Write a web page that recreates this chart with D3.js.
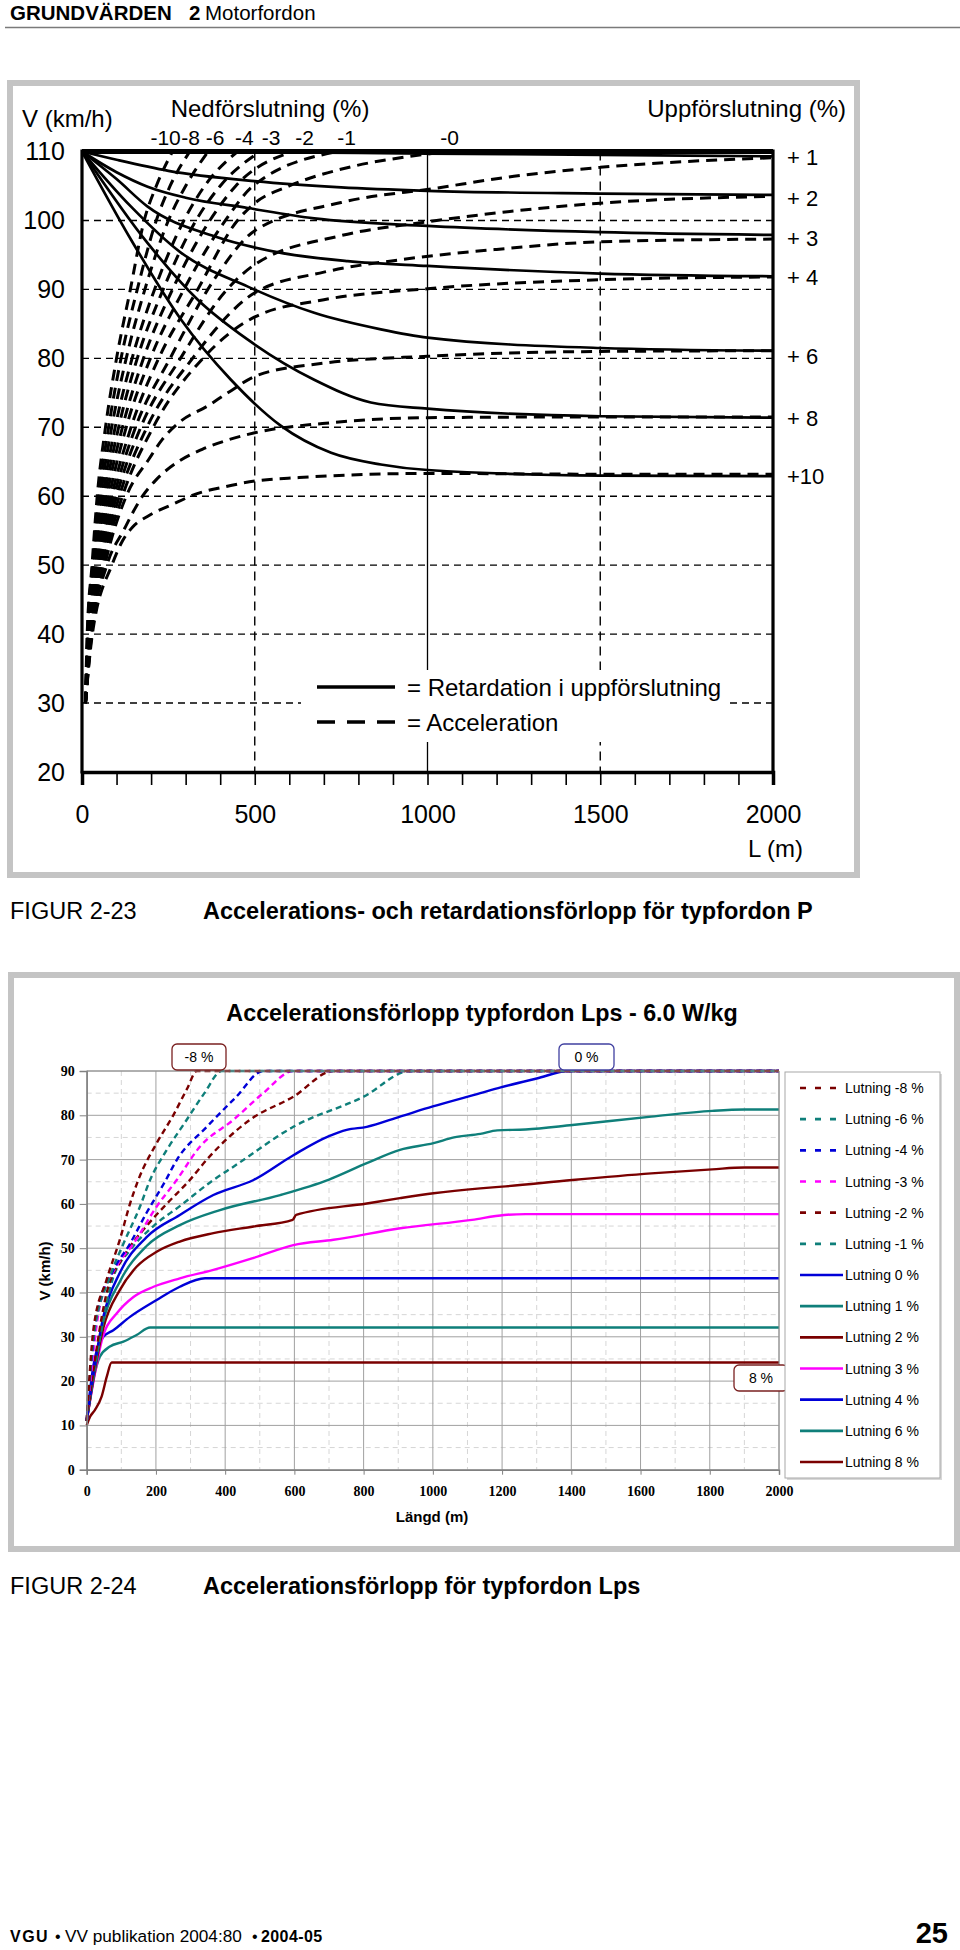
<!DOCTYPE html>
<html><head><meta charset="utf-8">
<script src="https://cdn.jsdelivr.net/npm/d3@7"></script>
<style>
html,body{margin:0;padding:0;background:#fff;}
svg{display:block;}
text{font-family:"Liberation Sans",Arial,Helvetica,sans-serif;}
</style></head><body>
<svg id="page" width="960" height="1950"></svg>
<script>
// ---------------- FIGUR 2-23 data (L in m, V in km/h) ----------------
const topYTicks = [20,30,40,50,60,70,80,90,100,110];
const topXTicks = [0,500,1000,1500,2000];
const topSlopeLabels = ["-10","-8","-6","-4","-3","-2","-1","-0"];
const topSlopeLabelL = [242,314,385,470,547,644,766,1064];
const upLabels = ["+ 1","+ 2","+ 3","+ 4","+ 6","+ 8","+10"];
const upLabelV = [109.2,103.3,97.5,91.8,80.4,71.4,63.0];

// acceleration, downhill (reach 110)
const accDown10 = [[10,30],[15,40],[29,50],[44,60],[68,70],[100,80],[140,90],[180,100],[215,105],[262,110]];
const accDown8  = [[10,30],[16,40],[31,50],[49,60],[77,70],[113,80],[160,90],[215,100],[255,105],[312,110]];
const accDown6  = [[10,30],[17,40],[33,50],[54,60],[86,70],[128,80],[182,90],[250,100],[300,105],[365,110]];
const accDown4  = [[10,30],[18,40],[35,50],[60,60],[96,70],[145,80],[210,90],[295,100],[355,105],[450,110]];
const accDown3  = [[10,30],[19,40],[38,50],[66,60],[106,70],[160,80],[235,90],[330,100],[400,105],[515,110]];
const accDown2  = [[10,30],[20,40],[41,50],[72,60],[117,70],[178,80],[262,90],[370,100],[445,105],[610,110]];
const accDown1  = [[10,30],[21,40],[44,50],[79,60],[128,70],[198,80],[295,90],[415,100],[495,105],[740,110]];
const accDown0  = [[10,30],[22,40],[47,50],[86,60],[142,70],[222,80],[335,90],[450,100],[500,102.5],[600,105],[780,107.8],[950,109.3],[1060,110]];
// acceleration, uphill
const accUp1  = [[10,30],[23,40],[50,50],[93,60],[155,70],[255,80],[390,92],[500,98.5],[750,102.6],[1027,104.7],[1250,106.4],[1500,107.7],[2000,109.1]];
const accUp2  = [[10,30],[24,40],[53,50],[100,60],[170,70],[285,80],[420,90],[500,93.6],[750,97.8],[1000,99.8],[1500,102.5],[2000,103.5]];
const accUp3  = [[10,30],[25,40],[57,50],[108,60],[188,70],[320,80],[500,89.5],[700,92.5],[921,94.3],[1200,95.8],[1500,96.9],[2000,97.3]];
const accUp4  = [[10,30],[26,40],[61,50],[117,60],[206,70],[350,80],[500,86],[700,88.5],[1000,90.1],[1500,91.4],[2000,91.8]];
const accUp6  = [[10,30],[27,40],[66,50],[128,60],[194,65.4],[232,68.2],[281,70.7],[364,73.1],[422,75],[506,77.5],[700,79.3],[1000,80.3],[1500,81],[2000,81.1]];
const accUp8  = [[10,30],[28,40],[72,50],[120,55],[175,60],[213,62.3],[281,65.1],[348,66.8],[425,68.2],[500,69.2],[730,70.7],[1000,71.4],[1500,71.5],[2000,71.5]];
const accUp10 = [[10,30],[30,40],[88,50.2],[117,53.5],[146,55.5],[194,57.2],[261,58.8],[329,60.3],[416,61.4],[500,62.2],[628,62.7],[1000,63.3],[1500,63.2],[2000,63.2]];
// retardation in uphill
const ret1  = [[0,110],[500,109.9],[1000,109.7],[1500,109.5],[2000,109.3]];
const ret2  = [[0,110],[100,108.8],[250,107.2],[500,105.7],[750,104.8],[1000,104.3],[1500,103.9],[2000,103.7]];
const ret3  = [[0,110],[100,107],[190,104.9],[300,103.3],[480,101.8],[672,100.3],[1000,99.2],[1500,98.3],[2000,97.9]];
const ret4  = [[0,110],[100,106],[190,102],[383,97.7],[576,95.3],[769,94.1],[1000,93.4],[1500,92.3],[2000,91.9]];
const ret6  = [[0,110],[142,102],[287,95.3],[480,90.4],[672,86.6],[865,84.2],[1000,83],[1500,81.5],[2000,81.1]];
const ret8  = [[0,110],[190,96.7],[335,88.5],[480,82.7],[672,76.9],[836,73.6],[1000,72.7],[1500,71.6],[2000,71.4]];
const ret10 = [[0,110],[142,97.2],[287,85.6],[431,76.9],[576,70.2],[721,66.3],[865,64.6],[1000,63.8],[1500,63],[2000,62.9]];

// ---------------- FIGUR 2-24 data ----------------
const legendLabels = ["Lutning -8 %","Lutning -6 %","Lutning -4 %","Lutning -3 %","Lutning -2 %","Lutning -1 %",
  "Lutning 0 %","Lutning 1 %","Lutning 2 %","Lutning 3 %","Lutning 4 %","Lutning 6 %","Lutning 8 %"];
const lpsM8 = [[0,11],[20,32],[58,43],[96,52],[125,60],[149,65.4],[202,73.7],[250,80],[290,86],[318,90],[2000,90]];
const lpsM6 = [[0,11],[20,30],[67,43.6],[106,51],[154,59.4],[183,65.4],[230,72],[289,79],[340,85],[390,90],[2000,90]];
const lpsM4 = [[0,11],[29,35],[77,45],[125,51],[173,58],[226,65],[260,69.9],[347,77.4],[430,84],[510,90],[2000,90]];
const lpsM3 = [[0,11],[38,37],[87,46],[135,51],[202,59.4],[260,65.4],[327,72.9],[424,79],[510,85],[597,90],[2000,90]];
const lpsM2 = [[0,11],[58,40],[106,48],[173,55],[231,60],[298,65.4],[347,70],[472,79],[597,84.2],[713,90],[2000,90]];
const lpsM1 = [[0,11],[77,43.5],[125,49.5],[193,55],[269,59.5],[366,65.4],[424,68.4],[597,77.4],[800,84.2],[934,90],[2000,90]];
const lps0  = [[0,11],[48,34.5],[96,44.5],[173,52.5],[269,57.5],[366,62],[482,65.4],[597,71],[700,75.3],[751,76.7],[809,77.4],[905,79.7],[1000,82],[1137,85],[1196,86.3],[1300,88.3],[1393,90],[2000,90]];
const lps1  = [[0,11],[48,33.5],[96,42.5],[173,50.5],[269,55.2],[385,58.6],[559,62],[700,65.5],[809,69.2],[905,72.2],[1002,73.7],[1061,75],[1137,75.8],[1186,76.6],[1268,76.8],[1403,77.8],[1631,79.7],[1807,81],[1900,81.3],[2000,81.3]];
const lps2  = [[0,11],[48,32],[96,40.6],[144,45.8],[202,49.2],[269,51.5],[366,53.4],[482,54.9],[595,56.4],[605,57.5],[809,60.1],[905,61.3],[1002,62.4],[1137,63.5],[1200,63.9],[1403,65.4],[1631,66.9],[1807,67.8],[1900,68.2],[2000,68.2]];
const lps3  = [[0,11],[48,30.4],[87,35.3],[135,39],[193,41.3],[269,43.2],[366,45.1],[482,47.8],[597,50.7],[713,51.9],[906,54.5],[1113,56.4],[1206,57.5],[1268,57.7],[2000,57.7]];
const lps4  = [[0,11],[19,23.3],[48,30],[77,31.5],[125,34.5],[202,38.3],[269,41.3],[342,43.2],[2000,43.2]];
const lps6  = [[0,11],[19,20.2],[38,25.5],[67,27.8],[106,28.9],[144,30.4],[183,32.1],[2000,32.1]];
const lps8  = [[0,10],[10,12],[24,13.5],[43,16.5],[58,21],[72,24.2],[2000,24.2]];
const boxLabels = ["-8 %","0 %","8 %"];

// ---------------- drawing ----------------
const svg = d3.select("#page");
const FONT = '"Liberation Sans", Arial, Helvetica, sans-serif';
const SERIF = '"Liberation Serif","Times New Roman",serif';

// header
const hdr = svg.append("text").attr("y",20).style("font-size","20.5px");
hdr.append("tspan").attr("x",10).style("font-weight","bold").text("GRUNDVÄRDEN");
hdr.append("tspan").attr("x",189).style("font-weight","bold").text("2");
hdr.append("tspan").attr("x",205).text("Motorfordon");
svg.append("line").attr("x1",5).attr("x2",960).attr("y1",27.5).attr("y2",27.5).attr("stroke","#7a7a7a").attr("stroke-width",1.5);

// ===== Figure 2-23 =====
svg.append("rect").attr("x",10).attr("y",83).attr("width",847).attr("height",792)
  .attr("fill","#fff").attr("stroke","#c4c4c4").attr("stroke-width",6);

const xT = d3.scaleLinear().domain([0,2000]).range([82,773]);
const yT = d3.scaleLinear().domain([20,110]).range([772,151.5]);

const gT = svg.append("g");
// gridlines
gT.selectAll(".hg").data(topYTicks.filter(v=>v>20&&v<110)).join("line")
  .attr("x1",xT(0)).attr("x2",xT(2000)).attr("y1",d=>yT(d)).attr("y2",d=>yT(d))
  .attr("stroke","#000").attr("stroke-width",1.4).attr("stroke-dasharray","7,5");
gT.selectAll(".vg").data([500,1500]).join("line")
  .attr("x1",d=>xT(d)).attr("x2",d=>xT(d)).attr("y1",yT(110)).attr("y2",yT(20))
  .attr("stroke","#000").attr("stroke-width",1.4).attr("stroke-dasharray","9,6");
gT.append("line").attr("x1",xT(1000)).attr("x2",xT(1000)).attr("y1",yT(110)).attr("y2",yT(20))
  .attr("stroke","#000").attr("stroke-width",1.3);

// legend box (covers gridlines)
gT.append("rect").attr("x",301).attr("y",670).attr("width",425).attr("height",72).attr("fill","#fff");
gT.append("line").attr("x1",317).attr("x2",395).attr("y1",687).attr("y2",687).attr("stroke","#000").attr("stroke-width",3.5);
gT.append("line").attr("x1",317).attr("x2",395).attr("y1",722).attr("y2",722).attr("stroke","#000").attr("stroke-width",3.5).attr("stroke-dasharray","18,12");
gT.append("text").attr("x",407).attr("y",696).style("font-size","24px").text("= Retardation i uppförslutning");
gT.append("text").attr("x",407).attr("y",731).style("font-size","24px").text("= Acceleration");

const lineT = d3.line().x(d=>xT(d[0])).y(d=>yT(d[1])).curve(d3.curveMonotoneX);
const accSeries = [accDown10,accDown8,accDown6,accDown4,accDown3,accDown2,accDown1,accDown0,
                   accUp1,accUp2,accUp3,accUp4,accUp6,accUp8,accUp10];
const retSeries = [ret1,ret2,ret3,ret4,ret6,ret8,ret10];
gT.selectAll(".acc").data(accSeries).join("path").attr("d",lineT)
  .attr("fill","none").attr("stroke","#000").attr("stroke-width",3).attr("stroke-dasharray","11,7");
gT.selectAll(".ret").data(retSeries).join("path").attr("d",lineT)
  .attr("fill","none").attr("stroke","#000").attr("stroke-width",2.7);

// frame of plot
gT.append("line").attr("x1",xT(0)).attr("x2",xT(2000)).attr("y1",yT(110)).attr("y2",yT(110)).attr("stroke","#000").attr("stroke-width",5);
gT.append("line").attr("x1",xT(0)).attr("x2",xT(0)).attr("y1",yT(110)-2).attr("y2",yT(20)+1.5).attr("stroke","#000").attr("stroke-width",3.2);
gT.append("line").attr("x1",xT(2000)).attr("x2",xT(2000)).attr("y1",yT(110)-2).attr("y2",yT(20)+1.5).attr("stroke","#000").attr("stroke-width",3.2);

// axes
const gYT = gT.append("g").attr("transform",`translate(${xT(0)},0)`)
  .call(d3.axisLeft(yT).tickValues(topYTicks).tickSize(0).tickPadding(17));
gYT.select(".domain").remove();
gYT.selectAll("text").style("font-size","25px").style("font-family",FONT).attr("fill","#000");

const gXT = gT.append("g").attr("transform",`translate(0,${yT(20)})`)
  .call(d3.axisBottom(xT).tickValues(xT.ticks(20)).tickSize(13).tickPadding(20)
        .tickFormat(d=> topXTicks.includes(d) ? d : ""));
gXT.select(".domain").attr("stroke","#000").attr("stroke-width",3.5);
gXT.selectAll(".tick line").attr("stroke","#000").attr("stroke-width",1.6);
gXT.selectAll("text").style("font-size","25px").style("font-family",FONT).attr("fill","#000");

gT.append("text").attr("x",803).attr("y",857).attr("text-anchor","end").style("font-size","24px").text("L (m)");
gT.append("text").attr("x",22).attr("y",127).style("font-size","24px").text("V (km/h)");
gT.append("text").attr("x",270).attr("y",117).attr("text-anchor","middle").style("font-size","24px").text("Nedförslutning (%)");
gT.append("text").attr("x",846).attr("y",117).attr("text-anchor","end").style("font-size","24px").text("Uppförslutning (%)");
gT.selectAll(".sl").data(topSlopeLabels).join("text")
  .attr("x",(d,i)=>xT(topSlopeLabelL[i])).attr("y",145).attr("text-anchor","middle")
  .style("font-size","21px").text(d=>d);
gT.selectAll(".ul").data(upLabels).join("text")
  .attr("x",787).attr("y",(d,i)=>yT(upLabelV[i])+8).style("font-size","22px").text(d=>d);

// captions
svg.append("text").attr("x",10).attr("y",919).style("font-size","23.5px").text("FIGUR 2-23");
svg.append("text").attr("x",203).attr("y",919).style("font-size","23.5px").style("font-weight","bold")
  .text("Accelerations- och retardationsförlopp för typfordon P");

// ===== Figure 2-24 =====
svg.append("rect").attr("x",11).attr("y",975).attr("width",946).attr("height",574)
  .attr("fill","#fff").attr("stroke","#c4c4c4").attr("stroke-width",6);
svg.append("text").attr("x",482).attr("y",1021).attr("text-anchor","middle")
  .style("font-size","23.3px").style("font-weight","bold").text("Accelerationsförlopp typfordon Lps - 6.0 W/kg");

const xB = d3.scaleLinear().domain([0,2000]).range([86.7,779]);
const yB = d3.scaleLinear().domain([0,90]).range([1469.7,1071]);
const gB = svg.append("g");
// minor grid
gB.selectAll(".mx").data(xB.ticks(20).filter(d=>d%200!==0)).join("line")
  .attr("x1",d=>xB(d)).attr("x2",d=>xB(d)).attr("y1",yB(90)).attr("y2",yB(0))
  .attr("stroke","#d6d6d6").attr("stroke-width",1).attr("stroke-dasharray","5,4");
gB.selectAll(".my").data(yB.ticks(18).filter(d=>d%10!==0)).join("line")
  .attr("x1",xB(0)).attr("x2",xB(2000)).attr("y1",d=>yB(d)).attr("y2",d=>yB(d))
  .attr("stroke","#d6d6d6").attr("stroke-width",1).attr("stroke-dasharray","5,4");
// major grid
gB.selectAll(".Mx").data(xB.ticks(10)).join("line")
  .attr("x1",d=>xB(d)).attr("x2",d=>xB(d)).attr("y1",yB(90)).attr("y2",yB(0))
  .attr("stroke","#a0a0a0").attr("stroke-width",1);
gB.selectAll(".My").data(yB.ticks(9)).join("line")
  .attr("x1",xB(0)).attr("x2",xB(2000)).attr("y1",d=>yB(d)).attr("y2",d=>yB(d))
  .attr("stroke","#a0a0a0").attr("stroke-width",1);

const MAROON="#7a0000", TEAL="#0f7f7a", BLUE="#0000d8", MAG="#ff00ff";
const lpsSeries = [lpsM8,lpsM6,lpsM4,lpsM3,lpsM2,lpsM1,lps0,lps1,lps2,lps3,lps4,lps6,lps8];
const lpsColor = [MAROON,TEAL,BLUE,MAG,MAROON,TEAL,BLUE,TEAL,MAROON,MAG,BLUE,TEAL,MAROON];
const lpsDashed = [1,1,1,1,1,1,0,0,0,0,0,0,0];
const lineB = d3.line().x(d=>xB(d[0])).y(d=>yB(d[1])).curve(d3.curveMonotoneX);
const order = d3.range(lpsSeries.length).reverse();
gB.selectAll(".s").data(order).join("path").attr("d",i=>lineB(lpsSeries[i]))
  .attr("fill","none").attr("stroke",i=>lpsColor[i]).attr("stroke-width",2.4)
  .attr("stroke-dasharray",i=>lpsDashed[i]?"6,4":null);

// axes bottom chart
const gYB = gB.append("g").attr("transform",`translate(${xB(0)},0)`)
  .call(d3.axisLeft(yB).ticks(9).tickSize(7).tickPadding(5));
gYB.select(".domain").attr("stroke","#808080").attr("stroke-width",1.5);
gYB.selectAll(".tick line").attr("stroke","#808080");
gYB.selectAll("text").style("font-family",SERIF).style("font-weight","bold").style("font-size","14px").attr("fill","#000");
const gXB = gB.append("g").attr("transform",`translate(0,${yB(0)})`)
  .call(d3.axisBottom(xB).ticks(10).tickFormat(d3.format("d")).tickSize(5).tickPadding(11));
gXB.select(".domain").attr("stroke","#808080").attr("stroke-width",1.5);
gXB.selectAll(".tick line").attr("stroke","#808080");
gXB.selectAll("text").style("font-family",SERIF).style("font-weight","bold").style("font-size","14px").attr("fill","#000");
gB.append("line").attr("x1",xB(0)).attr("x2",xB(2000)).attr("y1",yB(90)).attr("y2",yB(90)).attr("stroke","#909090");
gB.append("line").attr("x1",xB(2000)).attr("x2",xB(2000)).attr("y1",yB(90)).attr("y2",yB(0)).attr("stroke","#909090");

gB.append("text").attr("x",432).attr("y",1522).attr("text-anchor","middle")
  .style("font-size","15px").style("font-weight","bold").text("Längd (m)");
gB.append("text").attr("transform","translate(50,1271) rotate(-90)").attr("text-anchor","middle")
  .style("font-size","15px").style("font-weight","bold").text("V (km/h)");

// label boxes
const boxSpec = [
  {l:boxLabels[0], x:172, y:1044, w:54, h:26, c:"#7a2020"},
  {l:boxLabels[1], x:559, y:1044, w:55, h:26, c:"#4040a0"},
  {l:boxLabels[2], x:734, y:1365, w:54, h:26, c:"#7a2020"}];
boxSpec.forEach(b=>{
  gB.append("rect").attr("x",b.x).attr("y",b.y).attr("width",b.w).attr("height",b.h).attr("rx",5)
    .attr("fill","#fff").attr("stroke",b.c).attr("stroke-width",1.3);
  gB.append("text").attr("x",b.x+b.w/2).attr("y",b.y+b.h/2+5).attr("text-anchor","middle")
    .style("font-size","14px").text(b.l);
});

// legend
const lg = gB.append("g");
lg.append("rect").attr("x",787).attr("y",1074).attr("width",155).attr("height",406).attr("fill","#d8d8d8");
lg.append("rect").attr("x",785).attr("y",1072).attr("width",155).attr("height",406)
  .attr("fill","#fff").attr("stroke","#a8a8a8").attr("stroke-width",1);
const legY = d3.scalePoint().domain(legendLabels).range([1088,1462]);
legendLabels.forEach((lab,i)=>{
  const y = legY(lab);
  lg.append("line").attr("x1",800).attr("x2",lpsDashed[i]?836:843).attr("y1",y).attr("y2",y)
    .attr("stroke",lpsColor[i]).attr("stroke-width",2.6).attr("stroke-dasharray",lpsDashed[i]?"6,9":null);
  lg.append("text").attr("x",845).attr("y",y+5).style("font-size","14px").text(lab);
});

// caption 2-24
svg.append("text").attr("x",10).attr("y",1594).style("font-size","23.5px").text("FIGUR 2-24");
svg.append("text").attr("x",203).attr("y",1594).style("font-size","23.5px").style("font-weight","bold")
  .text("Accelerationsförlopp för typfordon Lps");

// footer
const ft = svg.append("text").attr("y",1942).style("font-size","16px");
ft.append("tspan").attr("x",10).style("font-weight","bold").style("letter-spacing","1.5px").text("VGU");
ft.append("tspan").attr("x",55).text("•");
ft.append("tspan").attr("x",65).style("font-size","17.2px").text("VV publikation 2004:80");
ft.append("tspan").attr("x",252).text("•");
ft.append("tspan").attr("x",261).style("font-weight","bold").style("letter-spacing","0.4px").text("2004-05");
svg.append("text").attr("x",948).attr("y",1943).attr("text-anchor","end").style("font-size","29px").style("font-weight","bold").text("25");
</script>
</body></html>
